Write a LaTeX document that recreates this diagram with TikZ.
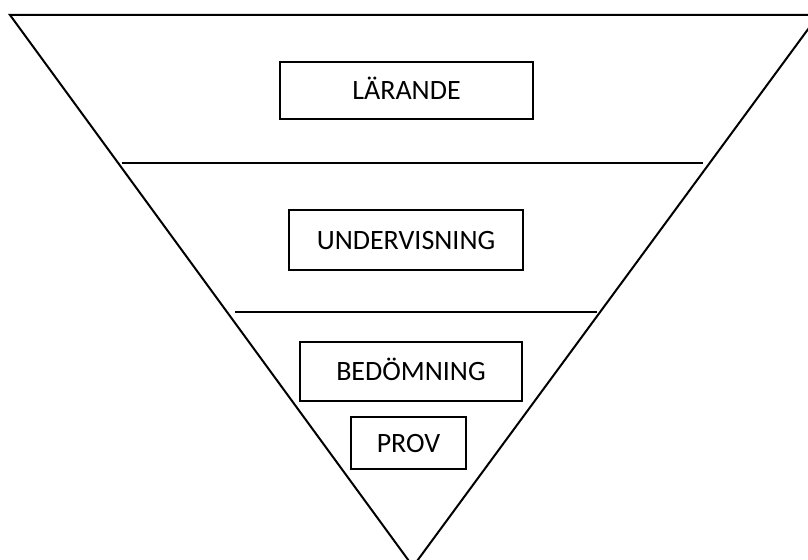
\documentclass[tikz,border=0pt]{standalone}
\usepackage{fontspec}
\setmainfont{Carlito}
\begin{document}
\begin{tikzpicture}[x=0.75pt,y=-0.75pt,
  edge/.style={line width=1.5pt,line join=miter},
  label/.style={draw,line width=1.5pt,inner sep=0pt,font=\fontsize{21}{25}\selectfont,
    text height=13.5pt,text depth=0pt,align=center}]
\useasboundingbox (0,0) rectangle (808,560);
% triangle corners
\coordinate (tl) at (10,15);
\coordinate (tr) at (818.5,15);
\coordinate (ap) at (413,566.5);
\draw[edge] (tl) -- (tr) -- (ap) -- cycle;
% dividing lines
\coordinate (l1a) at (121.7,163);
\coordinate (l1b) at (703.3,163);
\coordinate (l2a) at (235,312);
\coordinate (l2b) at (597,312);
\draw[edge] (l1a) -- (l1b);
\draw[edge] (l2a) -- (l2b);
% boxes
\node[label,minimum width=189.75pt,minimum height=42.75pt] (larande) at (406.5,90.5) {LÄRANDE};
\node[label,minimum width=175.5pt,minimum height=45pt] (undervisning) at (406,240) {UNDERVISNING};
\node[label,minimum width=166.5pt,minimum height=44.25pt] (bedomning) at (411,371.5) {BEDÖMNING};
\node[label,minimum width=86.25pt,minimum height=39pt] (prov) at (408.5,443) {PROV};
\end{tikzpicture}
\end{document}
